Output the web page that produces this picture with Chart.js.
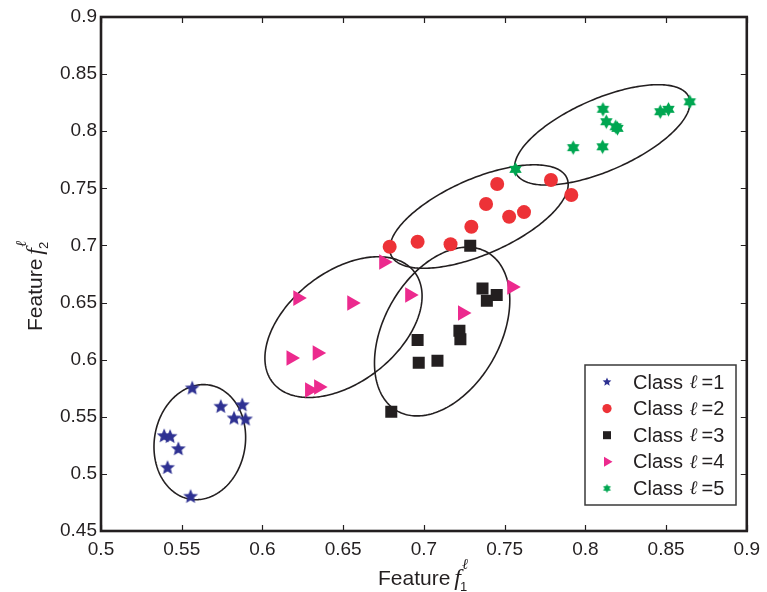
<!DOCTYPE html>
<html><head><meta charset="utf-8">
<script src="https://cdn.jsdelivr.net/npm/chart.js@4.4.0/dist/chart.umd.min.js"></script>
<style>html,body{margin:0;padding:0;background:#fff;}#wrap{width:767px;height:592px;}</style>
</head><body><div id="wrap"><canvas id="c" width="767" height="592"></canvas></div>
<script>
// ---- data ----
const xTicks = [0.5,0.55,0.6,0.65,0.7,0.75,0.8,0.85,0.9];
const yTicks = [0.45,0.5,0.55,0.6,0.65,0.7,0.75,0.8,0.85,0.9];
const classLabels = ['Class ℓ =1','Class ℓ =2','Class ℓ =3','Class ℓ =4','Class ℓ =5'];

const class1X = [0.5565,0.5742,0.5875,0.5824,0.5895,0.5391,0.5428,0.5479,0.5412,0.5555];
const class1Y = [0.5749,0.5588,0.5602,0.5486,0.5477,0.5331,0.5325,0.5217,0.5053,0.4800];
const class2X = [0.6788,0.6961,0.7165,0.7294,0.7385,0.7454,0.7528,0.7620,0.7787,0.7913];
const class2Y = [0.6989,0.7032,0.7010,0.7164,0.7363,0.7538,0.7251,0.7292,0.7573,0.7441];
const class3X = [0.7287,0.7363,0.7451,0.7390,0.7220,0.7226,0.6961,0.6968,0.7084,0.6798];
const class3Y = [0.6997,0.6624,0.6566,0.6516,0.6253,0.6178,0.6172,0.5973,0.5990,0.5544];
const class4X = [0.6219,0.6553,0.6751,0.6912,0.6177,0.6339,0.6292,0.6348,0.7239,0.7544];
const class4Y = [0.6539,0.6496,0.6855,0.6566,0.6014,0.6058,0.5734,0.5760,0.6408,0.6636];
const class5X = [0.7567,0.7925,0.8107,0.8109,0.8130,0.8188,0.8199,0.8464,0.8515,0.8647];
const class5Y = [0.7666,0.7856,0.7864,0.8192,0.8083,0.8039,0.8025,0.8171,0.8192,0.8258];

// cluster ellipses (data units): centre, first semi-axis vector, second semi-axis vector
const ellipseCenterX = [0.5612,0.7341,0.7113,0.6502,0.8105];
const ellipseCenterY = [0.5278,0.7253,0.6246,0.6285,0.7968];
const ellipseAxisU = [[0.0062,0.0499],[0.0545,0.0336],[0.0282,0.0692],[0.0441,0.0480],[0.0536,0.0331]];
const ellipseAxisV = [[0.0277,-0.0070],[0.0092,-0.0304],[0.0310,-0.0258],[0.0206,-0.0386],[0.0088,-0.0289]];

// ---- styles ----
const INK = '#231F20';
const colors = ['#2E3192','#ED3237','#231F20','#EC2A8E','#00A651'];
const SANS = '"Liberation Sans", Arial, Helvetica, sans-serif';
const SERIF = '"Liberation Serif", "DejaVu Serif", serif';

function starCanvas(R, ratio, n, color){
  const size = Math.ceil(R*2+2);
  const c = document.createElement('canvas');
  c.width = size; c.height = size;
  const g = c.getContext('2d');
  g.translate(size/2, size/2);
  g.beginPath();
  for(let i=0;i<2*n;i++){
    const a = -Math.PI/2 + i*Math.PI/n;
    const r = (i%2) ? R*ratio : R;
    const px = Math.cos(a)*r, py = Math.sin(a)*r;
    if(i===0) g.moveTo(px,py); else g.lineTo(px,py);
  }
  g.closePath();
  g.fillStyle = color; g.fill();
  return c;
}
const star5 = starCanvas(7.8, 0.45, 5, colors[0]);
const star6 = starCanvas(7.2, 0.577, 6, colors[4]);
const star5s = starCanvas(4.6, 0.45, 5, colors[0]);
const star6s = starCanvas(4.4, 0.577, 6, colors[4]);

function pts(xs, ys){ return xs.map((v,i)=>({x:v, y:ys[i]})); }
const fmt = v => String(Number(Number(v).toFixed(2)));

const datasets = [
  {label:classLabels[0], data:pts(class1X,class1Y), pointStyle:star5, pointRadius:8, backgroundColor:colors[0], borderColor:colors[0]},
  {label:classLabels[1], data:pts(class2X,class2Y), pointStyle:'circle', pointRadius:7, backgroundColor:colors[1], borderColor:colors[1], borderWidth:0},
  {label:classLabels[2], data:pts(class3X,class3Y), pointStyle:'rect', pointRadius:8.5, backgroundColor:colors[2], borderColor:colors[2], borderWidth:0},
  {label:classLabels[3], data:pts(class4X,class4Y), pointStyle:'triangle', rotation:90, pointRadius:9, backgroundColor:colors[3], borderColor:colors[3], borderWidth:0},
  {label:classLabels[4], data:pts(class5X,class5Y), pointStyle:star6, pointRadius:8, backgroundColor:colors[4], borderColor:colors[4]}
];

function drawRun(ctx, parts, x, y){
  let cx = x;
  parts.forEach(p=>{
    ctx.font = p.font;
    const px = cx + (p.dx||0);
    ctx.fillText(p.t, px, y + (p.dy||0));
    const w = ctx.measureText(p.t).width + (p.dx||0);
    if(!p.noAdvance) cx += w;
  });
  return cx;
}

const framePlugin = {
  id:'frame',
  beforeDatasetsDraw(chart){
    const ctx = chart.ctx, xs = chart.scales.x, ys = chart.scales.y;
    ctx.save();
    ctx.strokeStyle = INK; ctx.lineWidth = 1.6;
    for(let k=0;k<ellipseCenterX.length;k++){
      ctx.beginPath();
      for(let i=0;i<=240;i++){
        const t = i/240*Math.PI*2;
        const X = ellipseCenterX[k] + Math.cos(t)*ellipseAxisU[k][0] + Math.sin(t)*ellipseAxisV[k][0];
        const Y = ellipseCenterY[k] + Math.cos(t)*ellipseAxisU[k][1] + Math.sin(t)*ellipseAxisV[k][1];
        const px = xs.getPixelForValue(X), py = ys.getPixelForValue(Y);
        if(i===0) ctx.moveTo(px,py); else ctx.lineTo(px,py);
      }
      ctx.closePath();
      ctx.stroke();
    }
    ctx.restore();
  },
  afterDraw(chart){
    const ctx = chart.ctx, a = chart.chartArea, xs = chart.scales.x, ys = chart.scales.y;
    ctx.save();
    ctx.strokeStyle = INK; ctx.lineWidth = 1.2;
    const TL = 6;
    ctx.beginPath();
    xTicks.forEach(v=>{
      const px = Math.round(xs.getPixelForValue(v))+0.5;
      ctx.moveTo(px, a.bottom); ctx.lineTo(px, a.bottom-TL);
      ctx.moveTo(px, a.top); ctx.lineTo(px, a.top+TL);
    });
    yTicks.forEach(v=>{
      const py = Math.round(ys.getPixelForValue(v))+0.5;
      ctx.moveTo(a.left, py); ctx.lineTo(a.left+TL, py);
      ctx.moveTo(a.right, py); ctx.lineTo(a.right-TL, py);
    });
    ctx.stroke();
    ctx.lineWidth = 2.6;
    ctx.strokeRect(a.left, a.top, a.right-a.left, a.bottom-a.top);

    // legend
    const lx = 585, ly = 365, lw = 151, lh = 140;
    ctx.fillStyle = '#fff';
    ctx.fillRect(lx, ly, lw, lh);
    ctx.strokeStyle = '#3a3a3a'; ctx.lineWidth = 1.5;
    ctx.strokeRect(lx, ly, lw, lh);
    const rowY = i => 382 + i*26.6;
    chart.data.datasets.forEach((ds,i)=>{
      const mx = 607, my = rowY(i);
      ctx.fillStyle = colors[i];
      if(i===0){ ctx.drawImage(star5s, mx-star5s.width/2, my-star5s.height/2); }
      else if(i===4){ ctx.drawImage(star6s, mx-star6s.width/2, my-star6s.height/2); }
      else if(i===1){ ctx.beginPath(); ctx.arc(mx,my,4.6,0,Math.PI*2); ctx.fill(); }
      else if(i===2){ ctx.fillRect(mx-4,my-4,8,8); }
      else if(i===3){ ctx.beginPath(); ctx.moveTo(mx+5.5,my); ctx.lineTo(mx-3,my-5); ctx.lineTo(mx-3,my+5); ctx.closePath(); ctx.fill(); }
      ctx.fillStyle = INK; ctx.textBaseline = 'middle'; ctx.textAlign = 'left';
      const [pre, post] = ds.label.split('ℓ');
      drawRun(ctx, [
        {t:pre, font:'20px '+SANS},
        {t:'ℓ', font:'italic 19px '+SERIF, dx:1},
        {t:post.trim(), font:'20px '+SANS, dx:4}
      ], 633, my+1);
    });

    // axis titles
    ctx.fillStyle = INK; ctx.textBaseline = 'alphabetic'; ctx.textAlign = 'left';
    let x0 = drawRun(ctx, [{t:'Feature', font:'21px '+SANS}], 378, 585);
    x0 = drawRun(ctx, [{t:'f', font:'italic 24px '+SERIF, dx:4}], x0, 585);
    drawRun(ctx, [{t:'1', font:'13px '+SANS, dx:-1}], x0, 591);
    drawRun(ctx, [{t:'ℓ', font:'italic 15px '+SERIF, dx:1}], x0, 569);

    ctx.save();
    ctx.translate(42, 331);
    ctx.rotate(-Math.PI/2);
    let y0 = drawRun(ctx, [{t:'Feature', font:'21px '+SANS}], 0, 0);
    y0 = drawRun(ctx, [{t:'f', font:'italic 24px '+SERIF, dx:4}], y0, 0);
    drawRun(ctx, [{t:'2', font:'13px '+SANS, dx:-1}], y0, 6);
    drawRun(ctx, [{t:'ℓ', font:'italic 15px '+SERIF, dx:1}], y0, -16);
    ctx.restore();
    ctx.restore();
  }
};

new Chart(document.getElementById('c'), {
  type:'scatter',
  data:{datasets},
  options:{
    responsive:false, animation:false, devicePixelRatio:1,
    layout:{padding:{left:0, right:12, top:17, bottom:0}},
    plugins:{legend:{display:false}, tooltip:{enabled:false}},
    scales:{
      x:{type:'linear', min:0.5, max:0.9,
        afterBuildTicks:s=>{ s.ticks = xTicks.map(v=>({value:v})); },
        afterFit:s=>{ s.height = 61; },
        grid:{display:false, drawTicks:false}, border:{display:false},
        ticks:{autoSkip:false, maxRotation:0, padding:7, color:INK, font:{family:SANS, size:19}, callback:v=>fmt(v)}
      },
      y:{type:'linear', min:0.45, max:0.9,
        afterBuildTicks:s=>{ s.ticks = yTicks.map(v=>({value:v})); },
        afterFit:s=>{ s.width = 101; },
        grid:{display:false, drawTicks:false}, border:{display:false},
        ticks:{autoSkip:false, padding:4, color:INK, font:{family:SANS, size:19}, callback:v=>fmt(v)}
      }
    }
  },
  plugins:[framePlugin]
});
</script></body></html>
